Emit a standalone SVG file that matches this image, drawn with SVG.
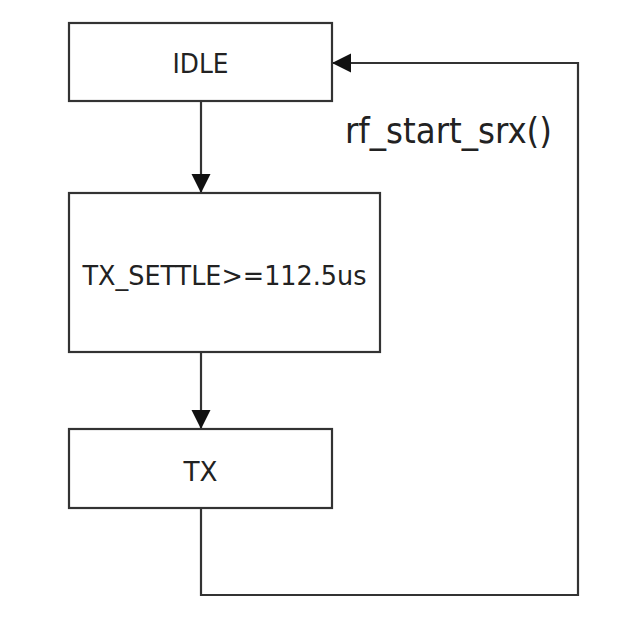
<svg xmlns="http://www.w3.org/2000/svg" width="639" height="622" viewBox="0 0 639 622">
  <style>
    .box { fill: #ffffff; stroke: #333333; stroke-width: 2.2; }
    .lbl { font-family: "DejaVu Sans Condensed", "DejaVu Sans", sans-serif; font-stretch: condensed; font-size: 27px; fill: #222222; text-anchor: middle; }
    .edge { fill: none; stroke: #333333; stroke-width: 2.2; }
    .elbl { font-family: "DejaVu Sans Condensed", "DejaVu Sans", sans-serif; font-stretch: condensed; font-size: 36px; fill: #222222; }
  </style>
  <defs>
    <marker id="arrow" markerUnits="userSpaceOnUse" markerWidth="20" markerHeight="20" refX="19" refY="9.5" orient="auto">
      <path d="M0,0 L19,9.5 L0,19 Z" fill="#111111"/>
    </marker>
  </defs>
  <rect x="0" y="0" width="639" height="622" fill="#ffffff"/>
  <g id="connectors">
    <path class="edge" d="M201,101 V193" marker-end="url(#arrow)"/>
    <path class="edge" d="M201,352 V429" marker-end="url(#arrow)"/>
    <path class="edge" d="M201,508 V595 H578 V63 H332" marker-end="url(#arrow)"/>
    <text class="elbl" x="345" y="143" textLength="207" lengthAdjust="spacingAndGlyphs">rf_start_srx()</text>
  </g>
  <g id="idle">
    <rect class="box" x="69" y="23" width="263" height="78"/>
    <text class="lbl" x="200.5" y="72.5" textLength="56" lengthAdjust="spacingAndGlyphs">IDLE</text>
  </g>
  <g id="tx_settle">
    <rect class="box" x="69" y="193" width="311" height="159"/>
    <text class="lbl" x="224.5" y="284.5" textLength="284" lengthAdjust="spacingAndGlyphs">TX_SETTLE&gt;=112.5us</text>
  </g>
  <g id="tx">
    <rect class="box" x="69" y="429" width="263" height="79"/>
    <text class="lbl" x="200.5" y="481" textLength="34" lengthAdjust="spacingAndGlyphs">TX</text>
  </g>
</svg>
